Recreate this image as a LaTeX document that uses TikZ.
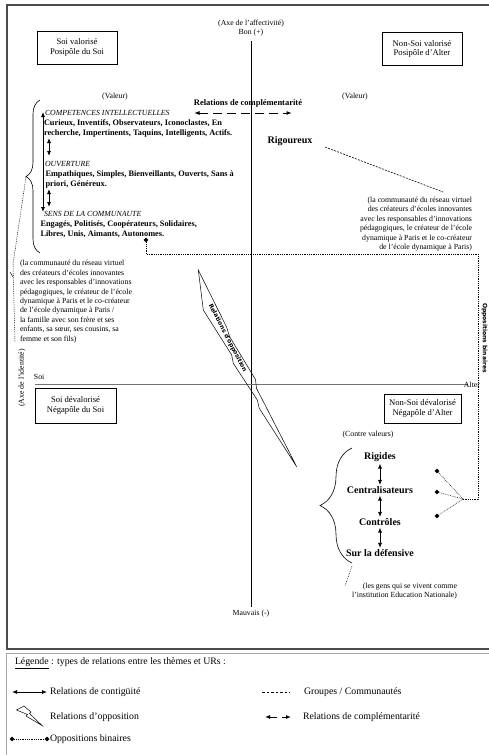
\documentclass[tikz,border=0pt]{standalone}
\usepackage{fontspec}
\setmainfont{Liberation Serif}
\newfontfamily\boldsans{DejaVu Sans}
\usetikzlibrary{arrows.meta,decorations.pathreplacing,shapes.geometric}
\begin{document}
\begin{tikzpicture}[x=1pt,y=-1pt,
 every node/.style={inner sep=0pt, outer sep=0pt},
 pole/.style={draw, line width=0.6pt, minimum width=80pt, minimum height=33pt, align=center, font=\fontsize{8.6}{9.6}\selectfont},
 small/.style={font=\fontsize{7.8}{9.4}\selectfont},
 qual/.style={font=\fontsize{8.3}{10}\selectfont\bfseries, align=left},
 theme/.style={font=\fontsize{7.8}{9}\selectfont\itshape},
 big/.style={font=\fontsize{10}{12}\selectfont\bfseries},
 grp/.style={line width=0.5pt, dash pattern=on 0.8pt off 1pt},
 contig/.style={{Latex[length=5pt,width=4pt]}-{Latex[length=5pt,width=4pt]}, line width=0.8pt},
 compl/.style={{Latex[length=5.5pt,width=4pt]}-{Latex[length=5.5pt,width=4pt]}, line width=1pt, dash pattern=on 9pt off 5pt},
 bin/.style={diamond, fill=black, minimum size=4.8pt},
 sanslab/.style={font=\boldsans\fontsize{6}{7}\selectfont\bfseries},
 legtext/.style={font=\fontsize{9.8}{11}\selectfont, anchor=west},
]
\useasboundingbox (0,0) rectangle (488,755);
\fill[white] (0,0) rectangle (488,755);

% frame (right side runs off the page as in the reference)
\draw[line width=1.2pt, black!70] (7,5) rectangle (492,649);

% axes
\coordinate (vtop) at (251,41);
\coordinate (vbot) at (251,607);
\draw[line width=0.7pt] (vtop) -- (vbot);
\coordinate (hl) at (35,384);
\coordinate (hr) at (468,384);
\draw[line width=0.7pt, black!55] (hl) -- (hr);

\node[small] (axeaff) at (251,24) {(Axe de l'affectivité)};
\node[small] (bon) at (251,32.5) {Bon (+)};
\node[small] (mauvais) at (251,614) {Mauvais (-)};
\node[small, anchor=west] (soi) at (34,377) {Soi};
\node[small] (alter) at (472,385) {Alter};
\node[small, rotate=90] (axeid) at (22,378) {(Axe de l'identité)};

% poles
\node[pole] (posisoi) at (77,47.5) {Soi valorisé\\Posipôle du Soi};
\node[pole] (posialter) at (422,49) {Non-Soi valorisé\\Posipôle d'Alter};
\node[pole, minimum width=81pt, minimum height=35pt] (negasoi) at (75.5,405.5) {Soi dévalorisé\\Négapôle du Soi};
\node[pole, minimum width=77pt, minimum height=29pt] (negaalter) at (422.5,408.5) {Non-Soi dévalorisé\\Négapôle d'Alter};

\node[small] (valL) at (115,97) {(Valeur)};
\node[small] (valR) at (355,97) {(Valeur)};

% complementarity
\node[font=\fontsize{8.5}{10}\selectfont\bfseries] (complab) at (248,103) {Relations de complémentarité};
\coordinate (compL) at (194,113);
\coordinate (compR) at (292,113);
\draw[compl] (compL) -- (compR);

% left values block
\draw[decorate, decoration={brace, amplitude=14pt}, line width=0.6pt] (40,253) -- (40,100);
\coordinate (braceTip) at (26,177);
\coordinate (laT) at (43,112);
\coordinate (laB) at (43,212);
\draw[contig] (laT) -- (laB);
\coordinate (sa1) at (49,138);
\coordinate (sa2) at (49,156);
\draw[contig] (sa1) -- (sa2);
\coordinate (sb1) at (49,189);
\coordinate (sb2) at (49,207);
\draw[contig] (sb1) -- (sb2);

\node[theme, anchor=west] (th1) at (45,112.5) {COMPETENCES INTELLECTUELLES};
\node[qual, anchor=north west] (q1) at (44,119.5) {Curieux, Inventifs, Observateurs, Iconoclastes, En\\recherche, Impertinents, Taquins, Intelligents, Actifs.};
\node[theme, anchor=west] (th2) at (45,164) {OUVERTURE};
\node[qual, anchor=north west] (q2) at (45.5,170.5) {Empathiques, Simples, Bienveillants, Ouverts, Sans à\\priori, Généreux.};
\node[theme, anchor=west] (th3) at (44,214) {SENS DE LA COMMUNAUTE};
\node[qual, anchor=north west] (q3) at (40.5,220.5) {Engagés, Politisés, Coopérateurs, Solidaires,\\Libres, Unis, Aimants, Autonomes.};

% left group text
\node[small, align=left, anchor=north west] (grpL) at (20,260.5) {(la communauté du réseau virtuel\\des créateurs d'écoles innovantes\\avec les responsables d'innovations\\pédagogiques, le créateur de l'école\\dynamique à Paris et le co-créateur\\ de l'école dynamique à Paris /\\la famille avec son frère et ses\\enfants, sa sœur, ses cousins, sa\\femme et son fils)};
\coordinate (gl1) at (13,264);
\coordinate (gl2) at (15,342);
\draw[grp] (braceTip) -- (gl1) -- (gl2);
\coordinate (tk1) at (10,272);
\coordinate (tk2) at (13,277);
\draw[line width=0.5pt] (tk1) -- (tk2);

% Rigoureux
\node[big] (rig) at (290,141) {Rigoureux};
\coordinate (rigstart) at (325,147);
\coordinate (rigend) at (443,192);
\draw[dash pattern=on 2pt off 1.2pt, line width=0.6pt] (rigstart) -- (rigend);
\node[small, align=right, anchor=north east] (grpR) at (472,197) {(la communauté du réseau virtuel\\des créateurs d'écoles innovantes\\avec les responsables d'innovations\\pédagogiques, le créateur de l'école\\dynamique à Paris et le co-créateur\\de l'école dynamique à Paris)};

% binary oppositions
\node[bin] (dL) at (146,240) {};
\coordinate (b1) at (146,254);
\coordinate (b2) at (478,254);
\coordinate (b3) at (478,499);
\coordinate (hub) at (463,499);
\draw[grp] (dL) -- (b1) -- (b2) -- (b3) -- (hub);
\node[bin] (m1) at (437,471) {};
\node[bin] (m2) at (437,492) {};
\node[bin] (m3) at (437,516) {};
\draw[grp] (hub) -- (m1);
\draw[grp] (hub) -- (m2);
\draw[grp] (hub) -- (m3);
\node[sanslab, rotate=-90] (oppbin) at (484.5,338) {Oppositions binaires};

% lightning
\draw[line width=0.5pt] (198.3,270) -- (226.7,327.3) -- (229.5,336.5) -- (255.5,379.5) -- (256.5,388.3) -- (296.7,466.7) -- (259.3,408.3) -- (257.3,400) -- (233.3,363.3) -- (231.7,355) -- (203.3,310) -- cycle;
\node[sanslab, rotate=-62.5] (opplab) at (227.5,338) {Relations d'opposition};

% counter values
\node[small] (contre) at (368,435) {(Contre valeurs)};
\draw[decorate, decoration={brace, amplitude=32pt}, line width=0.6pt] (352,563) -- (352,448);
\node[big] (rigides) at (380,457) {Rigides};
\node[big] (central) at (380,490) {Centralisateurs};
\node[big] (controles) at (380,522) {Contrôles};
\node[big] (defensive) at (380,553) {Sur la défensive};
\draw[contig, shorten <=2pt, shorten >=1.5pt] (rigides) -- (central);
\draw[contig, shorten <=2pt, shorten >=1.5pt] (central) -- (controles);
\draw[contig, shorten <=2pt, shorten >=1.5pt] (controles) -- (defensive);
\coordinate (bb1) at (352,566);
\coordinate (bb2) at (345,586);
\draw[grp] (bb1) -- (bb2);
\node[small, align=right, anchor=north east] (gens) at (457,583) {(les gens qui se vivent comme\\l'institution Education Nationale)};

% legend
\draw[black!35, line width=0.8pt] (6,762) -- (6,653) -- (495,653);
\node[legtext] (legtitle) at (15,663) {\underline{Légende} : types de relations entre les thèmes et URs :};
\coordinate (l1a) at (12,692);
\coordinate (l1b) at (47,692);
\draw[contig] (l1a) -- (l1b);
\node[legtext] (lt1) at (50,692) {Relations de contigüité};
\coordinate (l2a) at (262,692);
\coordinate (l2b) at (290,692);
\draw[dash pattern=on 2.5pt off 2pt, line width=0.6pt] (l2a) -- (l2b);
\node[legtext] (lt2) at (304,692) {Groupes / Communautés};
\draw[line width=0.5pt] (16.5,710) -- (24,706) -- (31,712) -- (29.5,713.5) -- (42,725.5) -- (26,716) -- (27.5,714.5) -- cycle;
\node[legtext] (lt3) at (50,717) {Relations d'opposition};
\coordinate (l4a) at (277,717);
\coordinate (l4b) at (265,717);
\coordinate (l4c) at (282,717);
\coordinate (l4d) at (291,717);
\draw[-{Latex[length=5pt,width=4pt]}, line width=1pt] (l4a) -- (l4b);
\draw[-{Latex[length=5pt,width=4pt]}, line width=1pt] (l4c) -- (l4d);
\node[legtext] (lt4) at (303,717) {Relations de complémentarité};
\node[bin] (ld1) at (12,739) {};
\node[bin] (ld2) at (47,739) {};
\draw[grp] (ld1) -- (ld2);
\node[legtext] (lt5) at (50,739) {Oppositions binaires};
\end{tikzpicture}
\end{document}
